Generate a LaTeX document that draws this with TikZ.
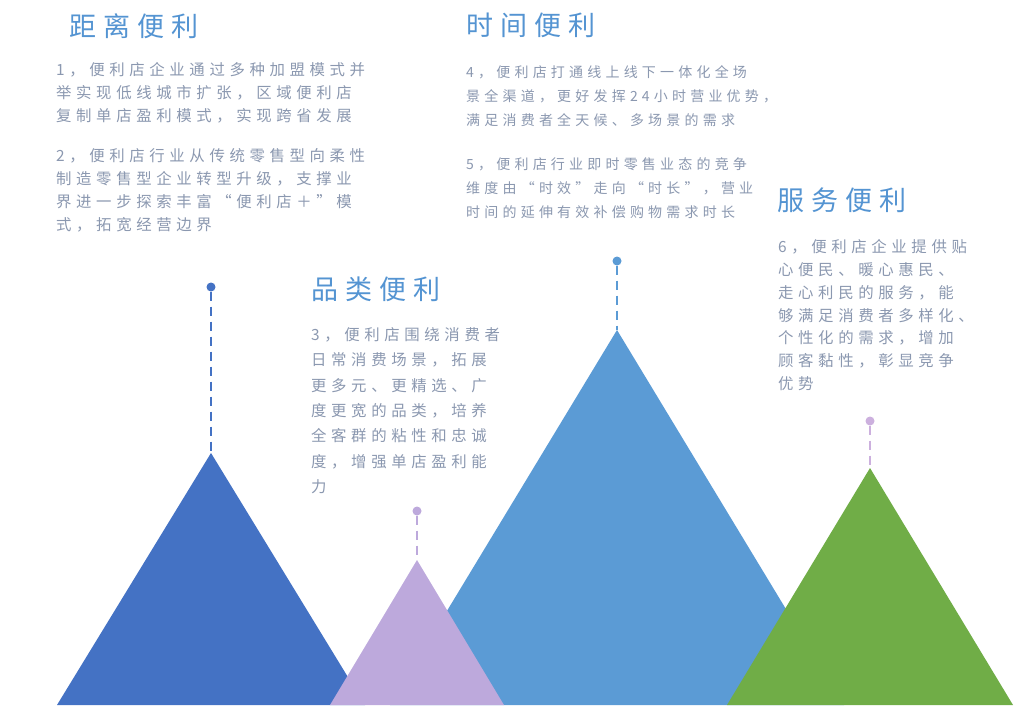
\documentclass[tikz,border=0pt]{standalone}
\usepackage{fontspec}
\usepackage{tikz}
\newfontfamily\headfont[LetterSpace=26]{Noto Sans CJK SC}
\newfontfamily\bodyfont[LetterSpace=30]{Noto Sans CJK SC}
\definecolor{peakA}{RGB}{68,114,196}
\definecolor{peakB}{RGB}{189,169,220}
\definecolor{peakC}{RGB}{91,155,213}
\definecolor{peakD}{RGB}{112,173,71}
\definecolor{dotD}{RGB}{204,176,222}
\definecolor{headblue}{RGB}{84,148,210}
\definecolor{bodygray}{RGB}{139,152,176}

\begin{document}
\begin{tikzpicture}[x=1pt,y=-1pt,
  headtxt/.style={anchor=north west,inner sep=0pt,text=headblue,font=\headfont\fontsize{27}{30}\selectfont},
  bodytxt/.style={anchor=north west,inner sep=0pt,text=bodygray,align=left,font=\bodyfont\fontsize{15.4}{#1}\selectfont},
  bodytxt/.default=23,
  midtxt/.style={bodytxt,font=\bodyfont\fontsize{14}{#1}\selectfont},
  midtxt/.default=24,
  peakdot/.style={circle,inner sep=0pt,minimum size=9pt},
  peakline/.style={line width=1.8pt,dash pattern=on 9pt off 6pt}]
  \fill[white] (0,0) rectangle (1028,705);
  \foreach \p/\ax/\ay/\hw/\dy/\col/\dcol in {C/617/330/227/261/peakC/peakC,A/211/453/154/287/peakA/peakA,B/417/560/87/511/peakB/peakB,D/870/468/143/421/peakD/dotD}{
    \fill[\col] (\ax,\ay) -- (\ax+\hw,705) -- (\ax-\hw,705) -- cycle;
    \coordinate (apex\p) at (\ax,\ay);
    \node[peakdot,fill=\dcol] (dot\p) at (\ax,\dy) {};
    \draw[peakline,\dcol] (dot\p) -- (apex\p);
  }

  \node[headtxt] (headDist) at (69,13) {距离便利};
  \node[bodytxt] (textOne) at (56,62.5) {1，便利店企业通过多种加盟模式并\\举实现低线城市扩张，区域便利店\\复制单店盈利模式，实现跨省发展};
  \node[bodytxt] (textTwo) at (56,148) {2，便利店行业从传统零售型向柔性\\制造零售型企业转型升级，支撑业\\界进一步探索丰富“便利店＋”模\\式，拓宽经营边界};

  \node[headtxt] (headTime) at (466,13) {时间便利};
  \node[midtxt] (textFour) at (466,65.5) {4，便利店打通线上线下一体化全场\\景全渠道，更好发挥24小时营业优势，\\满足消费者全天候、多场景的需求};
  \node[midtxt] (textFive) at (466,157) {5，便利店行业即时零售业态的竞争\\维度由“时效”走向“时长”，营业\\时间的延伸有效补偿购物需求时长};

  \node[headtxt] (headKind) at (311,277) {品类便利};
  \node[bodytxt=25.3] (textThree) at (311,327.5) {3，便利店围绕消费者\\日常消费场景，拓展\\更多元、更精选、广\\度更宽的品类，培养\\全客群的粘性和忠诚\\度，增强单店盈利能\\力};

  \node[headtxt] (headServ) at (777,188) {服务便利};
  \node[bodytxt=22.8] (textSix) at (778,239.5) {6，便利店企业提供贴\\心便民、暖心惠民、\\走心利民的服务，能\\够满足消费者多样化、\\个性化的需求，增加\\顾客黏性，彰显竞争\\优势};
\end{tikzpicture}
\end{document}
